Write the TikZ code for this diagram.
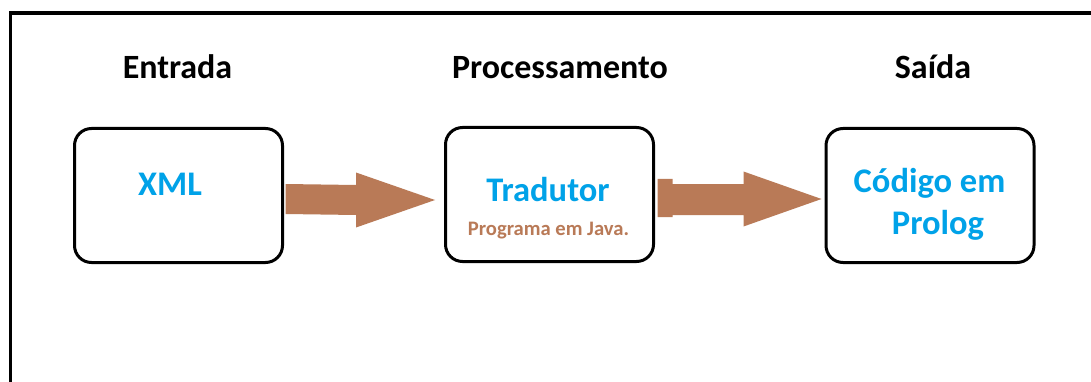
\documentclass[tikz,border=0pt]{standalone}
\usepackage{fontspec}
\setmainfont{Carlito}
\usetikzlibrary{calc}
\definecolor{pblue}{HTML}{00A2E8}
\definecolor{pbrown}{HTML}{B97A57}
\begin{document}
\begin{tikzpicture}[x=1pt,y=-1pt,
  stagebox/.style={draw=black,line width=3pt,rounded corners=17pt,minimum width=208pt,minimum height=134pt,inner sep=0pt},
  headtxt/.style={anchor=base,font=\fontsize{34}{38}\selectfont\bfseries,text=black,inner sep=0pt},
  maintxt/.style={anchor=base,font=\fontsize{34.5}{40}\selectfont\bfseries,text=pblue,inner sep=0pt},
  subtxt/.style={anchor=base,font=\fontsize{20.6}{24}\selectfont\bfseries,text=pbrown,inner sep=0pt},
  fatarrow/.style={fill=pbrown,draw=none}]
\useasboundingbox (0,0) rectangle (1091,382);
\fill[white] (0,0) rectangle (1091,382);
\draw[line width=3.5pt] (1091,13) -- (10.5,13) -- (10.5,382);
% boxes
\node[stagebox] (b1) at (178.5,195.5) {};
\node[stagebox] (b2) at (549.5,194.5) {};
\node[stagebox] (b3) at (930,195.5) {};
% headers
\node[headtxt] (h1) at (177.5,79) {Entrada};
\node[headtxt] (h2) at (560,79) {Processamento};
\node[headtxt] (h3) at (933,79) {Saída};
% texts
\node[maintxt] (t1) at (170,196) {XML};
\node[maintxt] (t2) at (548,201) {Tradutor};
\node[subtxt] (t2s) at (548.5,235) {Programa em Java.};
\node[maintxt] (t3a) at (929.5,193) {Código em};
\node[maintxt] (t3b) at (938,234) {Prolog};
% arrow 1
\coordinate (a1s) at ($(b1.east)+(1.5,3.5)$);
\coordinate (a1t) at ($(b2.west)+(-9,5.5)$);
\fill[fatarrow] ($(a1s)+(0,-15)$) -- ($(a1t)+(-79,-15)$) -- ($(a1t)+(-79,-27.5)$) -- (a1t)
  -- ($(a1t)+(-79,27.5)$) -- ($(a1t)+(-79,15)$) -- ($(a1s)+(0,15)$) -- cycle;
% arrow 2
\coordinate (a2s) at ($(b2.east)+(2.5,4.5)$);
\coordinate (a2t) at ($(b3.west)+(-3,3.5)$);
\fill[fatarrow] ($(a2s)+(0,-20)$) -- ($(a2s)+(15,-20)$) -- ($(a2s)+(15,-15)$) -- ($(a2t)+(-78,-15)$)
  -- ($(a2t)+(-78,-27.5)$) -- (a2t) -- ($(a2t)+(-78,27.5)$) -- ($(a2t)+(-78,16)$)
  -- ($(a2s)+(15,16)$) -- ($(a2s)+(15,18)$) -- ($(a2s)+(0,18)$) -- cycle;
\end{tikzpicture}
\end{document}
